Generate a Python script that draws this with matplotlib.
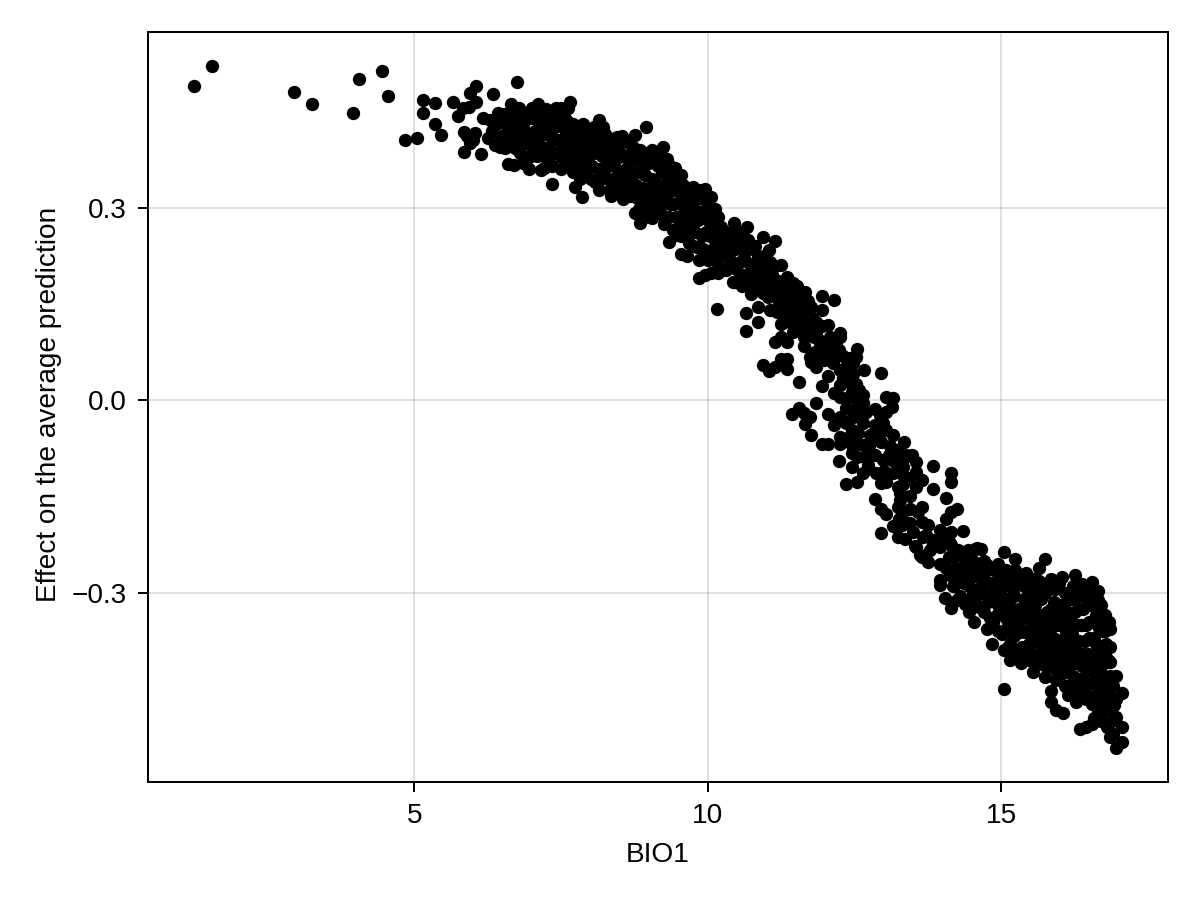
import matplotlib
matplotlib.use("Agg")
import matplotlib.pyplot as plt

x_ticks = [5, 10, 15]
y_ticks = [0.3, 0.0, -0.3]
y_tick_labels = ["0.3", "0.0", "\u22120.3"]

cold_tail = [
 (1.25,.489),(1.55,.520),(2.95,.480),(3.25,.462),(3.95,.447),(4.05,.501),(4.45,.513),(4.55,.474),
 (4.84,.405),(5.05,.408),(5.15,.467),(5.15,.447),(5.35,.463),(5.35,.430),(5.45,.413),(5.65,.465),
 (5.75,.442),(5.83,.455),(5.93,.457),(6.05,.464),(5.95,.478),(6.05,.489),(6.34,.477),(6.75,.496),
 (6.64,.462),(5.84,.418),(6.03,.416),(5.95,.400),(5.84,.386),(6.14,.384),(6.25,.408),(6.17,.439),
 (5.90,.412),(6.00,.405),
]
upper_band = [
 (6.28,.436),(6.33,.420),(6.38,.398),(6.43,.432),(6.48,.412),(6.53,.445),(6.55,.392),(6.60,.422),
 (6.63,.402),(6.68,.432),(6.72,.445),(6.75,.412),(6.80,.385),(6.85,.428),(6.90,.400),(6.60,.368),
 (6.70,.366),(6.85,.370),(6.95,.360),(7.15,.358),(7.35,.336),(7.74,.332),(7.85,.317),(7.00,.455),
 (7.10,.462),(7.25,.453),(7.50,.455),(7.65,.465),(7.40,.445),(6.95,.440),(7.05,.420),(7.00,.385),
 (7.10,.400),(7.15,.435),(7.20,.380),(7.25,.415),(7.30,.395),(7.35,.365),(7.40,.425),(7.45,.385),
 (7.50,.360),(7.55,.405),(7.60,.435),(7.60,.375),(7.70,.410),(7.70,.355),(7.75,.385),(7.80,.425),
 (7.85,.360),(7.90,.400),(7.95,.370),(8.00,.420),(8.00,.345),(8.05,.385),(8.10,.405),(8.15,.436),
 (8.15,.327),(8.15,.360),(8.20,.380),(8.25,.415),(8.30,.395),(8.30,.345),(8.35,.318),(8.40,.365),
 (8.45,.410),(8.50,.385),(8.50,.335),(8.55,.313),(8.60,.360),(8.65,.400),(8.70,.340),(8.72,.375),
 (8.76,.413),(8.76,.291),(8.80,.315),(8.84,.276),(8.85,.390),(8.85,.355),(8.90,.330),(8.94,.426),
 (8.95,.300),(9.00,.370),(9.04,.390),(9.04,.283),(9.05,.345),(9.10,.315),(9.15,.365),(9.20,.290),
 (9.24,.395),(9.25,.335),(9.30,.375),(9.34,.247),(9.35,.305),(9.40,.350),(9.40,.265),(9.45,.285),
 (9.50,.325),(9.55,.350),(9.55,.227),(9.55,.255),(9.60,.300),(9.65,.224),(9.65,.330),(9.70,.270),
 (9.75,.332),(9.75,.240),(9.80,.295),(9.85,.218),(9.85,.190),(9.90,.315),(9.90,.255),(9.95,.329),
 (9.95,.195),(10.00,.280),(10.05,.232),(10.06,.316),(10.06,.198),(10.10,.265),(10.15,.215),(10.15,.142),
 (10.17,.198),(10.18,.286),(10.20,.245),
]
upper_fill = [
 (6.42,.448),(6.46,.395),(6.58,.438),(6.58,.408),(6.66,.418),(6.72,.392),(6.78,.455),(6.78,.430),
 (6.82,.405),(6.88,.445),(6.92,.415),(6.95,.378),(7.02,.440),(7.02,.405),(7.08,.380),(7.12,.450),
 (7.12,.418),(7.18,.395),(7.20,.362),(7.22,.430),(7.28,.375),(7.32,.440),(7.34,.408),(7.38,.385),
 (7.42,.455),(7.44,.405),(7.48,.430),(7.50,.378),(7.54,.445),(7.54,.390),(7.58,.418),(7.62,.455),
 (7.64,.395),(7.66,.362),(7.70,.430),(7.74,.400),(7.78,.372),(7.82,.410),(7.82,.345),(7.88,.430),
 (7.88,.385),(7.92,.350),(7.96,.415),(7.98,.395),(8.02,.365),(8.06,.425),(8.08,.340),(8.12,.415),
 (8.12,.385),(8.18,.400),(8.18,.345),(8.22,.425),(8.24,.362),(8.28,.378),(8.32,.408),(8.34,.328),
 (8.38,.390),(8.38,.345),(8.44,.375),(8.46,.325),(8.48,.400),(8.52,.355),(8.54,.412),(8.58,.378),
 (8.58,.330),(8.62,.345),(8.66,.382),(8.68,.318),(8.72,.395),(8.74,.355),(8.78,.335),(8.80,.375),
 (8.82,.298),(8.88,.370),(8.88,.312),(8.92,.350),(8.92,.285),(8.96,.385),(8.98,.325),(9.02,.305),
 (9.06,.372),(9.08,.288),(9.10,.340),(9.14,.382),(9.16,.300),(9.18,.325),(9.22,.355),(9.26,.275),
 (9.28,.310),(9.32,.345),(9.34,.285),(9.36,.365),(9.38,.325),(9.42,.305),(9.44,.362),(9.46,.258),
 (9.48,.340),(9.52,.275),(9.52,.310),(9.58,.335),(9.60,.260),(9.62,.282),(9.66,.312),(9.68,.245),
 (9.72,.295),(9.72,.322),(9.78,.262),(9.78,.312),(9.82,.238),(9.84,.280),(9.86,.328),(9.92,.235),
 (9.92,.295),(9.96,.262),(10.00,.312),(10.00,.218),(10.04,.255),(10.04,.295),(10.08,.280),(10.12,.240),
 (10.12,.298),(10.14,.262),(10.20,.228),(10.22,.270),(10.25,.205),(10.26,.248),
]
middle_band = [
 (10.30,.262),(10.31,.203),(10.32,.232),(10.43,.184),(10.44,.276),(10.46,.184),(10.50,.250),(10.55,.215),
 (10.60,.195),(10.65,.135),(10.65,.108),(10.65,.184),(10.66,.270),(10.70,.235),(10.74,.166),(10.75,.205),
 (10.85,.145),(10.85,.122),(10.85,.225),(10.90,.190),(10.94,.254),(10.94,.167),(11.00,.210),(11.04,.234),
 (11.06,.140),(11.10,.178),(11.14,.209),(11.15,.248),(11.17,.138),(11.20,.160),(11.24,.118),(11.25,.210),
 (11.30,.145),(11.34,.192),(11.40,.165),(11.45,.182),(11.50,.135),(11.51,.177),(11.57,.125),(11.60,.155),
 (11.65,.169),(11.70,.128),(11.74,.145),(11.74,.114),(11.75,.145),(11.85,.122),(11.85,.106),(11.91,.083),
 (11.95,.162),(11.95,.141),(12.05,.117),(12.15,.156),(12.25,.104),(12.25,.098),
 (11.14,.090),(11.24,.099),(11.35,.090),(11.45,.106),(11.64,.084),(11.64,.099),(12.54,.079),(12.24,.078),
 (12.03,.088),(12.66,.047),(12.95,.042),(10.94,.054),(11.04,.046),(11.24,.064),(11.35,.064),(11.35,.049),
 (11.14,.051),(11.55,.028),(11.95,.022),(12.05,.038),(11.75,.060),(11.85,.052),(11.97,.062),(11.74,.067),
 (12.13,.058),(12.25,.047),(12.36,.052),(12.47,.058),(12.53,.067),(12.36,.039),(12.45,.023),(12.25,.023),
 (12.15,.011),(12.25,.005),(12.45,.013),(12.65,.008),(12.56,-.005),(12.65,-.005),(13.04,.005),(13.16,.003),
 (13.13,-.010),(13.04,-.018),(12.85,-.014),(12.93,-.023),(11.85,-.004),(11.55,-.013),(11.44,-.021),(11.64,-.020),
 (11.74,-.026),(11.65,-.038),(11.75,-.055),(12.05,-.021),(12.25,-.026),(12.15,-.039),(12.35,-.036),(12.48,-.026),
 (12.45,-.047),(12.65,-.036),(12.56,-.052),(12.76,-.055),(12.85,-.039),(12.99,-.036),(13.04,-.047),(13.16,-.055),
 (12.95,-.065),(11.94,-.069),(12.05,-.068),(12.25,-.058),(12.25,-.068),(12.45,-.070),(12.65,-.070),(13.34,-.066),
 (13.22,-.078),(13.08,-.085),(12.24,-.095),(12.45,-.104),(12.54,-.088),(12.45,-.082),(12.65,-.114),(12.73,-.101),
 (12.85,-.086),(12.99,-.093),(13.13,-.093),(12.87,-.114),(12.95,-.129),(12.35,-.130),(12.54,-.128),(13.04,-.127),
 (13.16,-.114),(13.33,-.104),(13.47,-.086),(13.55,-.096),(13.55,-.112),(13.64,-.124),(13.54,-.136),(13.84,-.102),
 (14.14,-.113),(14.14,-.127),(13.84,-.138),(14.05,-.153),(14.25,-.169),(14.15,-.175),(14.05,-.186),(13.64,-.167),
 (13.44,-.169),(12.85,-.154),(12.95,-.170),(13.04,-.177),(13.27,-.145),(13.24,-.166),(13.33,-.130),(13.24,-.136),
 (13.30,-.115),(13.28,-.155),(13.35,-.090),(13.42,-.122),(13.16,-.196),(12.95,-.207),(13.24,-.214),(13.36,-.216),
 (13.44,-.192),(13.64,-.190),(13.75,-.195),(13.95,-.203),(14.15,-.205),(14.35,-.204),(13.67,-.213),(13.84,-.218),
]
middle_fill = [
 (10.34,.250),(10.38,.218),(10.40,.262),(10.46,.235),(10.48,.205),(10.54,.262),(10.56,.240),(10.58,.178),
 (10.62,.222),(10.68,.250),(10.70,.190),(10.72,.212),(10.80,.240),(10.80,.178),(10.84,.200),(10.88,.212),
 (10.92,.180),(10.96,.225),(11.00,.195),(11.02,.160),(11.06,.215),(11.10,.195),(11.14,.165),(11.20,.185),
 (11.22,.150),(11.28,.175),(11.30,.122),(11.35,.160),(11.38,.135),(11.42,.150),(11.44,.120),(11.48,.165),
 (11.54,.148),(11.58,.110),(11.62,.135),(11.68,.110),(11.70,.155),(11.78,.128),(11.80,.098),(11.82,.075),
 (11.88,.095),(11.90,.065),(11.95,.115),(12.00,.075),(12.08,.098),(12.10,.070),(12.18,.085),(12.30,.068),
 (12.42,.065),(12.48,.040),(12.52,.025),(12.40,.005),(12.50,-.015),(12.58,.015),(12.35,-.012),(12.30,.035),
 (12.60,-.025),(12.52,-.068),(12.40,-.058),(12.70,-.018),(12.75,-.072),(12.68,-.088),(12.80,-.062),(12.92,-.052),
 (13.10,-.072),(13.00,-.110),(13.22,-.100),(13.38,-.085),(13.30,-.178),(13.30,-.195),(13.44,-.150),(13.25,-.185),
 (13.50,-.205),(13.58,-.175),(13.72,-.210),(13.90,-.220),(14.05,-.215),
]
warm_cluster = [
 (13.55,-.229),(13.61,-.242),(13.78,-.234),(13.95,-.229),(14.15,-.226),(14.26,-.234),(14.43,-.234),(14.58,-.231),
 (14.66,-.232),(14.55,-.232),(14.44,-.236),(15.04,-.237),(15.24,-.248),(15.24,-.265),(15.74,-.248),(15.64,-.261),
 (14.95,-.255),(14.75,-.257),(13.53,-.228),(13.64,-.244),(13.75,-.252),(13.95,-.255),(13.84,-.223),(14.12,-.223),
 (13.95,-.280),(13.95,-.288),(14.04,-.308),(14.15,-.324),(14.45,-.330),(14.53,-.346),(14.76,-.356),(14.84,-.380),
 (15.04,-.390),(15.14,-.405),(15.34,-.410),(15.54,-.423),(15.74,-.431),(15.94,-.436),(15.84,-.453),(15.84,-.471),
 (15.94,-.483),(16.05,-.487),(16.14,-.460),(16.34,-.512),(16.45,-.509),(16.55,-.505),(16.65,-.499),(16.65,-.483),
 (16.45,-.465),(16.54,-.473),(16.73,-.468),(16.85,-.525),(16.95,-.542),(17.05,-.533),(17.05,-.509),(16.95,-.494),
 (16.85,-.483),(17.05,-.456),(16.95,-.465),(16.95,-.430),(16.85,-.408),(16.85,-.356),(16.76,-.335),(16.65,-.312),
 (16.65,-.297),(16.55,-.283),(16.25,-.273),(16.04,-.276),(15.84,-.279),(15.54,-.279),(15.33,-.280),(16.37,-.286),
 (16.25,-.300),(16.14,-.312),(15.04,-.450),
 (14.05,-.262),(14.20,-.245),(14.30,-.270),(14.35,-.240),(14.18,-.290),(14.30,-.305),(14.42,-.265),(14.45,-.290),
 (14.52,-.250),(14.55,-.315),(14.60,-.275),(14.68,-.300),(14.70,-.330),(14.75,-.265),(14.82,-.285),(14.85,-.345),
 (14.92,-.310),(14.98,-.275),(15.02,-.365),(15.05,-.330),(15.10,-.285),(15.15,-.380),(15.18,-.345),(15.22,-.305),
 (15.25,-.395),(15.30,-.325),(15.32,-.362),(15.38,-.290),(15.42,-.385),(15.45,-.340),(15.48,-.405),(15.52,-.310),
 (15.55,-.365),(15.60,-.295),(15.62,-.410),(15.66,-.335),(15.70,-.385),(15.75,-.300),(15.76,-.355),(15.80,-.415),
 (15.85,-.325),(15.88,-.385),(15.92,-.295),(15.96,-.350),(16.00,-.415),(16.02,-.320),(16.06,-.380),(16.08,-.445),
 (16.10,-.340),(16.14,-.400),(16.18,-.310),(16.20,-.365),(16.22,-.430),(16.25,-.330),(16.28,-.390),(16.30,-.455),
 (16.32,-.305),(16.35,-.350),(16.38,-.415),(16.40,-.325),(16.42,-.375),(16.45,-.440),(16.48,-.300),(16.50,-.345),
 (16.52,-.400),(16.55,-.320),(16.58,-.370),(16.60,-.430),(16.62,-.335),(16.65,-.390),(16.68,-.450),(16.70,-.320),
 (16.72,-.360),(16.75,-.410),(16.78,-.380),(16.80,-.435),(16.80,-.345),(16.82,-.460),(16.85,-.385),(16.88,-.500),
 (16.90,-.445),(16.75,-.485),(16.80,-.510),
]
warm_fill = [
 (14.10,-.245),(14.12,-.272),(14.22,-.262),(14.25,-.285),(14.24,-.312),(14.38,-.255),(14.36,-.285),(14.38,-.318),
 (14.48,-.272),(14.50,-.305),(14.58,-.262),(14.62,-.295),(14.62,-.322),(14.70,-.250),(14.72,-.282),(14.78,-.315),
 (14.80,-.340),(14.88,-.265),(14.90,-.295),(14.92,-.335),(14.95,-.360),(15.00,-.295),(15.00,-.315),(15.08,-.265),
 (15.10,-.310),(15.10,-.355),(15.12,-.385),(15.18,-.275),(15.20,-.325),(15.22,-.368),(15.28,-.285),(15.30,-.345),
 (15.35,-.385),(15.38,-.310),(15.40,-.362),(15.42,-.270),(15.46,-.320),(15.48,-.380),(15.52,-.345),(15.54,-.395),
 (15.58,-.320),(15.60,-.375),(15.64,-.282),(15.66,-.405),(15.68,-.310),(15.72,-.360),(15.72,-.412),(15.78,-.330),
 (15.78,-.385),(15.82,-.295),(15.84,-.355),(15.86,-.405),(15.90,-.315),(15.92,-.372),(15.94,-.420),(15.98,-.285),
 (16.00,-.335),(16.02,-.395),(16.05,-.425),(16.08,-.300),(16.10,-.362),(16.12,-.420),(16.16,-.335),(16.18,-.385),
 (16.18,-.445),(16.22,-.290),(16.24,-.350),(16.26,-.410),(16.28,-.470),(16.30,-.325),(16.32,-.375),(16.34,-.435),
 (16.36,-.300),(16.38,-.350),(16.40,-.395),(16.42,-.455),(16.46,-.320),(16.46,-.420),(16.50,-.370),(16.52,-.295),
 (16.54,-.440),(16.56,-.345),(16.60,-.305),(16.60,-.400),(16.62,-.460),(16.66,-.355),(16.68,-.420),(16.70,-.340),
 (16.72,-.385),(16.74,-.440),(16.76,-.360),(16.78,-.465),(16.82,-.405),(16.84,-.345),(16.86,-.430),(16.70,-.500),
 (16.90,-.520),(16.92,-.475),(16.58,-.495),(16.40,-.440),(16.25,-.455),(16.12,-.445),
 (15.08,-.340),(15.16,-.325),(15.26,-.355),(15.34,-.330),(15.38,-.395),(15.44,-.360),(15.50,-.330),(15.58,-.400),
 (15.62,-.350),(15.66,-.365),(15.70,-.340),(15.74,-.395),(15.80,-.370),(15.82,-.340),(15.88,-.350),(15.94,-.395),
 (15.98,-.375),(16.04,-.350),(16.06,-.405),(16.12,-.375),(16.16,-.360),(16.20,-.395),(16.24,-.375),(16.28,-.350),
 (16.30,-.410),(16.34,-.395),(16.44,-.350),(16.48,-.395),(16.55,-.410),(16.62,-.380),(16.70,-.405),(16.76,-.395),
 (15.20,-.295),(15.46,-.295),(15.70,-.290),(15.90,-.340),(16.12,-.330),(14.85,-.310),(14.95,-.320),(15.25,-.335),
]

sections = [cold_tail, upper_band, upper_fill, middle_band, middle_fill, warm_cluster, warm_fill]
bio1 = [p[0] for s in sections for p in s]
effect = [p[1] for s in sections for p in s]

plt.rcParams["font.family"] = ["Liberation Sans", "DejaVu Sans"]
fig = plt.figure(figsize=(12, 9), dpi=100)
ax = fig.add_axes([148/1200, 118/900, 1020/1200, 750/900])
ax.scatter(bio1, effect, s=92, color="black", linewidths=0, zorder=3)
ax.set_xlim(0.46, 17.84)
ax.set_ylim(-0.595, 0.5735)
ax.set_xticks(x_ticks)
ax.set_yticks(y_ticks)
ax.set_yticklabels(y_tick_labels)
ax.grid(True, color="black", alpha=0.12, linewidth=1.44, zorder=0)
ax.set_axisbelow(True)
ax.tick_params(length=7.5, width=1.44, labelsize=20.16, pad=7.5)
ax.set_xlabel("BIO1", fontsize=20.16, labelpad=9.5)
ax.set_ylabel("Effect on the average prediction", fontsize=20.16, labelpad=7, y=0.503)
for sp in ax.spines.values():
    sp.set_linewidth(1.44)
fig.savefig("out.png", dpi=100)
